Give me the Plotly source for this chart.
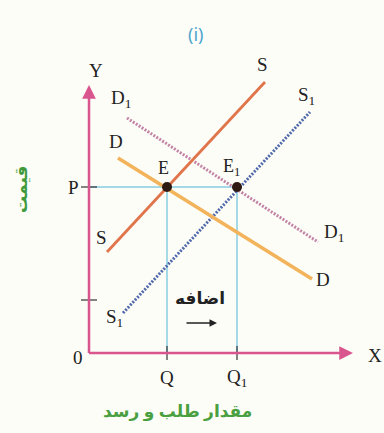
import plotly.graph_objects as go

# Supply / demand curves (quantity, price) in chart units
S_x = [1.8, 17.6]
S_y = [10.1, 27.1]
S1_x = [3.4, 22.1]
S1_y = [4.0, 24.1]
D_x = [2.9, 22.3]
D_y = [19.5, 7.4]
D1_x = [3.8, 22.9]
D1_y = [23.5, 11.1]

# Equilibrium points
eq_names = ["E", "E<sub>1</sub>"]
eq_q = [7.8, 14.8]
eq_p = [16.6, 16.6]

# Axis extents and the extra tick on the price axis
x_axis_end = 26.4
y_axis_end = 26.8
low_tick = 5.3

axis_col = "#d9558e"
guide_col = "#86cde3"
serif = "Liberation Serif, Times New Roman, serif"
persian = "Noto Sans, DejaVu Sans, sans-serif"

fig = go.Figure()

# Guide lines from E and E1 to the axes
fig.add_trace(go.Scatter(x=[0, eq_q[1]], y=[eq_p[0], eq_p[1]], mode="lines",
                         line=dict(color=guide_col, width=1.5), hoverinfo="skip"))
for q, p in zip(eq_q, eq_p):
    fig.add_trace(go.Scatter(x=[q, q], y=[0, p], mode="lines",
                             line=dict(color=guide_col, width=1.5), hoverinfo="skip"))

# Shifted curves (dense dotted)
fig.add_trace(go.Scatter(x=D1_x, y=D1_y, mode="lines",
                         line=dict(color="#c283a6", width=3, dash="2px,1.5px"), hoverinfo="skip"))
fig.add_trace(go.Scatter(x=S1_x, y=S1_y, mode="lines",
                         line=dict(color="#4f68ab", width=3, dash="2px,1.5px"), hoverinfo="skip"))
# Original curves
fig.add_trace(go.Scatter(x=D_x, y=D_y, mode="lines",
                         line=dict(color="#f2b35a", width=3.5), hoverinfo="skip"))
fig.add_trace(go.Scatter(x=S_x, y=S_y, mode="lines",
                         line=dict(color="#e0744a", width=2.8), hoverinfo="skip"))

# Equilibrium dots
fig.add_trace(go.Scatter(x=eq_q, y=eq_p, mode="markers",
                         marker=dict(color="#2e1a10", size=10), hoverinfo="skip"))

# Axes with arrowheads
fig.add_annotation(x=x_axis_end, y=0, ax=-0.15, ay=0, xref="x", yref="y",
                   axref="x", ayref="y", showarrow=True, arrowhead=2,
                   arrowsize=1.1, arrowwidth=2.5, arrowcolor=axis_col, text="")
fig.add_annotation(x=0, y=y_axis_end, ax=0, ay=-0.15, xref="x", yref="y",
                   axref="x", ayref="y", showarrow=True, arrowhead=2,
                   arrowsize=1.1, arrowwidth=2.5, arrowcolor=axis_col, text="")

# Ticks
for yv in [eq_p[0], low_tick]:
    fig.add_shape(type="line", x0=-0.8, x1=0.8, y0=yv, y1=yv,
                  line=dict(color="#333333", width=1.2))
for q in eq_q:
    fig.add_shape(type="line", x0=q, x1=q, y0=-0.7, y1=0.7,
                  line=dict(color="#333333", width=1.2))

def label(x, y, text, size=19, color="#222222", font=serif, **kw):
    fig.add_annotation(x=x, y=y, text=text, showarrow=False, xref="x", yref="y",
                       font=dict(family=font, size=size, color=color), **kw)

label(0.7, 28.3, "Y")
label(28.6, -0.2, "X")
label(-1.1, -0.4, "0")
label(-1.6, eq_p[0], "P")
label(eq_q[0], -2.4, "Q")
label(eq_q[1], -2.5, "Q<sub>1</sub>")

label(S_x[1] - 0.3, S_y[1] + 1.8, "S")
label(S_x[0] - 0.6, S_y[0] + 1.5, "S")
label(S1_x[1] - 0.4, S1_y[1] + 1.6, "S<sub>1</sub>")
label(S1_x[0] - 0.9, S1_y[0] - 0.5, "S<sub>1</sub>")
label(D_x[0] - 0.2, D_y[0] + 1.7, "D")
label(D_x[1] + 1.1, D_y[1], "D")
label(D1_x[0] - 0.6, D1_y[0] + 1.9, "D<sub>1</sub>")
label(D1_x[1] + 1.6, D1_y[1] + 0.9, "D<sub>1</sub>")
label(eq_q[0] - 0.4, eq_p[0] + 1.9, eq_names[0], size=18)
label(eq_q[1] - 0.6, eq_p[0] + 2.0, eq_names[1], size=18)

# Increase annotation with arrow
label(11.1, 5.6, "<b>اضافه</b>", size=17, font=persian)
fig.add_annotation(x=12.8, y=3.0, ax=9.6, ay=3.0, xref="x", yref="y",
                   axref="x", ayref="y", showarrow=True, arrowhead=2,
                   arrowsize=1, arrowwidth=1.5, arrowcolor="#222222", text="")

# Title and axis captions
fig.add_annotation(x=0.508, y=0.953, xref="paper", yref="paper", text="(i)",
                   showarrow=False, font=dict(family=persian, size=18, color="#4fa6cf"))
label(-6.9, 16.3, "<b>قیمت</b>", size=17, color="#3f9a3c", font=persian, textangle=-90)
label(8.8, -5.7, "<b>مقدار طلب و رسد</b>", size=17, color="#4aa040", font=persian)

fig.update_layout(
    width=384, height=433,
    margin=dict(l=0, r=0, t=0, b=0),
    paper_bgcolor="#fdfdf7", plot_bgcolor="#fdfdf7",
    showlegend=False,
    xaxis=dict(range=[-8.9, 29.5], visible=False, fixedrange=True),
    yaxis=dict(range=[-8.0, 35.3], visible=False, fixedrange=True),
)

fig.write_html("out.html")
